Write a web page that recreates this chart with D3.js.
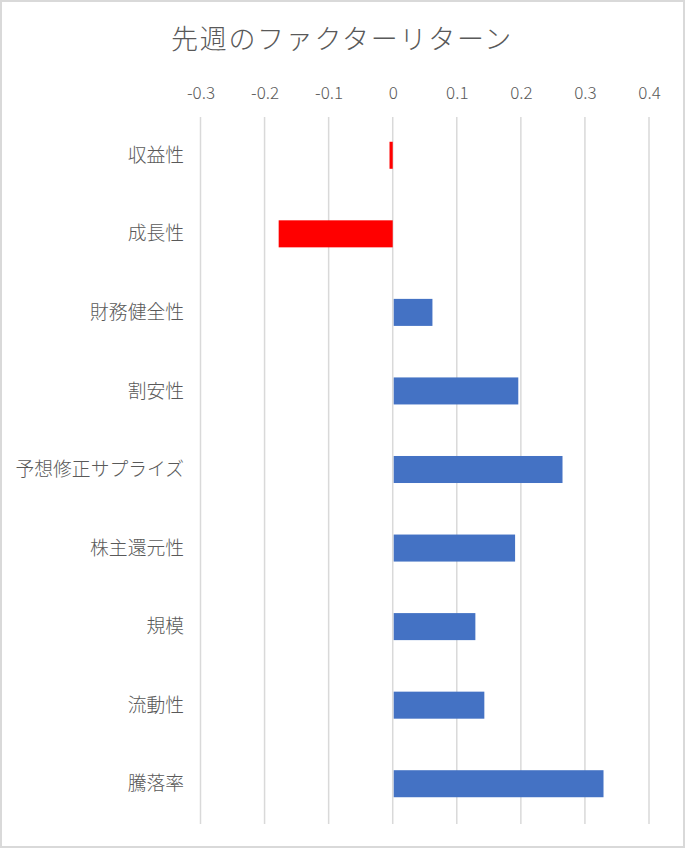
<!DOCTYPE html>
<html>
<head>
<meta charset="utf-8">
<script src="https://cdn.jsdelivr.net/npm/d3@7"></script>
<style>
  body { margin: 0; background: #fff; }
  svg text { font-family: "Noto Sans CJK JP", "Noto Sans", sans-serif; fill: #595959; font-weight: 300; }
</style>
</head>
<body>
<script>
// factor names, top to bottom
const factors = ["収益性", "成長性", "財務健全性", "割安性", "予想修正サプライズ", "株主還元性", "規模", "流動性", "騰落率"];
// last week's return per factor
const returns = [-0.005, -0.178, 0.062, 0.196, 0.265, 0.191, 0.129, 0.143, 0.329];
const tickValues = [-0.3, -0.2, -0.1, 0, 0.1, 0.2, 0.3, 0.4];
const title = "先週のファクターリターン";

const width = 685, height = 848;

const svg = d3.select("body")
  .append("svg")
  .attr("width", width)
  .attr("height", height);

// chart frame
svg.append("rect")
  .attr("x", 1).attr("y", 1)
  .attr("width", width - 2).attr("height", height - 2)
  .attr("fill", "#fff")
  .attr("stroke", "#d9d9d9")
  .attr("stroke-width", 2);

svg.append("text")
  .attr("x", 342)
  .attr("y", 49)
  .attr("text-anchor", "middle")
  .style("font-size", "27px")
  .style("letter-spacing", "1.7px")
  .text(title);

const x = d3.scaleLinear().domain([-0.3, 0.4]).range([200.5, 649]);
const y = d3.scaleBand().domain(factors).range([116, 823]).paddingInner(0.656).paddingOuter(0.328);

// vertical gridlines
svg.append("g")
  .selectAll("line")
  .data(tickValues)
  .enter()
  .append("line")
  .attr("x1", (d) => x(d))
  .attr("x2", (d) => x(d))
  .attr("y1", 117)
  .attr("y2", 824)
  .attr("stroke", "#d9d9d9")
  .attr("stroke-width", 1.5);

// top axis labels
const xAxis = svg.append("g")
  .attr("transform", "translate(0, 99)")
  .call(d3.axisTop(x).tickValues(tickValues).tickSize(0).tickPadding(0)
    .tickFormat((d) => (d === 0 ? "0" : d.toFixed(1))));
xAxis.select(".domain").remove();
xAxis.selectAll("text").style("font-size", "17px").attr("fill", "#595959");

// bars (positive ones sit just right of the zero line)
svg.append("g")
  .selectAll("rect")
  .data(returns)
  .enter()
  .append("rect")
  .attr("x", (d) => (d < 0 ? x(d) : x(0) + 1))
  .attr("width", (d) => Math.abs(x(d) - x(0)) - (d < 0 ? 0 : 1))
  .attr("y", (d, i) => y(factors[i]))
  .attr("height", y.bandwidth())
  .attr("fill", (d) => (d < 0 ? "#ff0000" : "#4472c4"));

// category labels
svg.append("g")
  .selectAll("text")
  .data(factors)
  .enter()
  .append("text")
  .attr("x", 184)
  .attr("y", (d) => y(d) + y.bandwidth() / 2)
  .attr("dy", "0.35em")
  .attr("text-anchor", "end")
  .style("font-size", "18.8px")
  .text((d) => d);
</script>
</body>
</html>
